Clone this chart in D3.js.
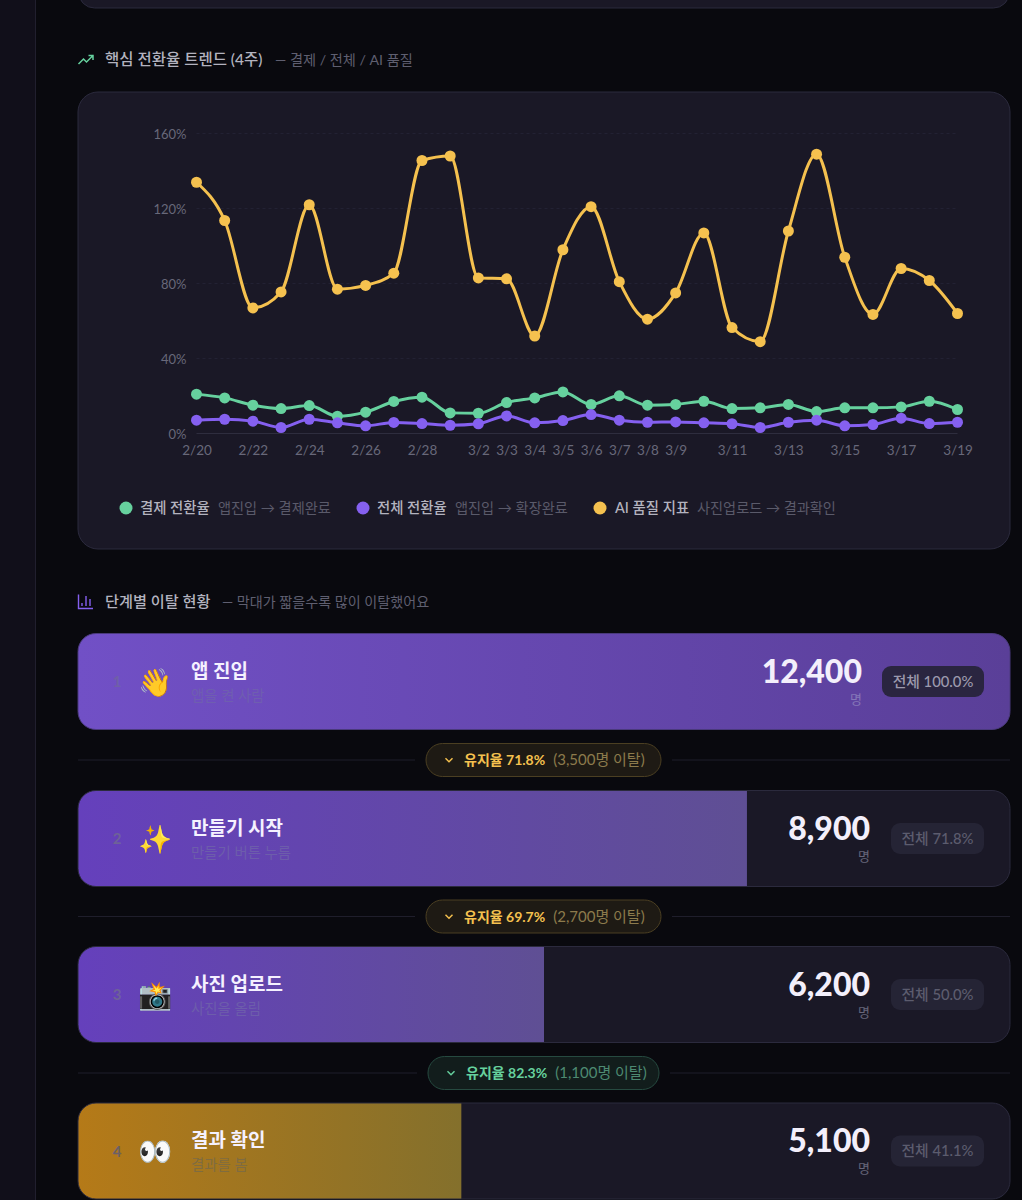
<!DOCTYPE html>
<html lang="ko">
<head>
<meta charset="utf-8">
<title>전환율 트렌드</title>
<script src="https://cdn.jsdelivr.net/npm/d3@7"></script>
<style>
  html, body { margin: 0; padding: 0; background: #09090e; overflow: hidden; }
  svg { display: block; }
  text { font-family: Lato, "Noto Sans CJK KR", sans-serif; }
</style>
</head>
<body>
<div id="chart"></div>
<script>
// 차트 데이터
const dates = ["2/20","2/21","2/22","2/23","2/24","2/25","2/26","2/27","2/28","3/1","3/2","3/3","3/4","3/5","3/6","3/7","3/8","3/9","3/10","3/11","3/12","3/13","3/14","3/15","3/16","3/17","3/18","3/19"];
const xTickLabels = ["2/20","2/22","2/24","2/26","2/28","3/2","3/3","3/4","3/5","3/6","3/7","3/8","3/9","3/11","3/13","3/15","3/17","3/19"];
const yTicks = [0, 40, 80, 120, 160];
const paymentRate = [21,19,15.1,13.3,14.9,9.2,11.4,17.1,19.4,11,10.8,16.5,19,22.2,15.5,20.1,15.1,15.5,17.2,13.3,13.7,15.5,11.7,13.7,13.7,14.2,17.2,12.8];
const overallRate = [7.1,7.6,6.6,3.2,7.6,5.7,4.1,5.9,5.3,4.4,5.2,9.4,5.7,6.9,10.1,7.1,6,6.2,5.7,5.2,3.2,6,7.1,4.1,4.8,8.2,5.3,6];
const aiQuality = [134,113.6,67,75.5,122,77,79,85.5,145.6,148,83,82.5,52,98,121,81,61,75,107,56.5,49,108,149,94,63.5,88,81.6,64];

const legendNames = ["결제 전환율","전체 전환율","AI 품질 지표"];
const legendSubs = ["앱진입 → 결제완료","앱진입 → 확장완료","사진업로드 → 결과확인"];

const stepNames = ["앱 진입","만들기 시작","사진 업로드","결과 확인"];
const stepSubs = ["앱을 켠 사람","만들기 버튼 누름","사진을 올림","결과를 봄"];
const stepIcons = ["👋","✨","📸","👀"];
const stepCounts = [12400,8900,6200,5100];
const stepShares = ["100.0%","71.8%","50.0%","41.1%"];
const retention = ["71.8%","69.7%","82.3%"];
const dropped = ["3,500명","2,700명","1,100명"];

const width = 1022;
const height = 1200;
const bg = "#09090e";
const cardFill = "#1a1826";
const cardStroke = "#2b2a3d";
const green = "#66d19e";
const purple = "#8560f0";
const yellow = "#f5c14f";

const svg = d3.select("#chart").append("svg")
  .attr("width", width)
  .attr("height", height)
  .attr("viewBox", [0, 0, width, height]);
const defs = svg.append("defs");

svg.append("rect").attr("width", width).attr("height", height).attr("fill", bg);

// 왼쪽 사이드바
svg.append("rect").attr("width", 36).attr("height", height).attr("fill", "#110f1a");
svg.append("line").attr("x1", 35.5).attr("x2", 35.5).attr("y1", 0).attr("y2", height).attr("stroke", "#211f2e");

// 위쪽에 잘린 카드
svg.append("rect").attr("x", 78.5).attr("y", -40).attr("width", 931).attr("height", 48)
  .attr("rx", 16).attr("fill", cardFill).attr("stroke", cardStroke);

function header(title, sub, y, titleSize, subX, subSize) {
  svg.append("text").attr("x", 105).attr("y", y + 5).attr("font-size", titleSize).attr("font-weight", 500)
    .attr("fill", "#b3b3bf").text(title);
  svg.append("text").attr("x", subX).attr("y", y + 5).attr("font-size", subSize)
    .attr("fill", "#5f5f70").text(sub);
}

header("핵심 전환율 트렌드 (4주)", "— 결제 / 전체 / AI 품질", 60, 15.5, 275, 14.2);
svg.append("path").attr("transform", "translate(78,53)")
  .attr("d", "M0.5 11 L5.5 6 L8.5 9 L15 2.5 M10.5 2.5 H15 V7")
  .attr("fill", "none").attr("stroke", green).attr("stroke-width", 1.5);

header("단계별 이탈 현황", "— 막대가 짧을수록 많이 이탈했어요", 601.5, 15.2, 222, 14.1);
svg.append("path").attr("transform", "translate(78,594)")
  .attr("d", "M0.5 0.5 V14.5 H15 M4 12 V9 M8 12 V2 M12 12 V5")
  .attr("fill", "none").attr("stroke", purple).attr("stroke-width", 1.4);

// 트렌드 카드
svg.append("rect").attr("x", 78).attr("y", 92).attr("width", 932).attr("height", 457)
  .attr("rx", 20).attr("fill", cardFill).attr("stroke", cardStroke);

const x = d3.scalePoint().domain(dates).range([196.5, 957.5]);
const y = d3.scaleLinear().domain([0, 160]).range([433.5, 133.5]);

svg.append("g").selectAll("line").data(yTicks).join("line")
  .attr("x1", x.range()[0]).attr("x2", x.range()[1])
  .attr("y1", d => y(d)).attr("y2", d => y(d))
  .attr("stroke", d => d === 0 ? "#2e2d3e" : "#222133")
  .attr("stroke-dasharray", d => d === 0 ? null : "3 3");

const yAxis = svg.append("g").attr("transform", "translate(186.5,0.5)")
  .call(d3.axisLeft(y).tickValues(yTicks).tickSize(0).tickPadding(0).tickFormat(d => d + "%"));
const xAxis = svg.append("g").attr("transform", "translate(0,445)")
  .call(d3.axisBottom(x).tickValues(xTickLabels).tickSize(0).tickPadding(0));
[yAxis, xAxis].forEach((a, k) => {
  a.select(".domain").remove();
  a.selectAll("text").attr("font-size", k === 0 ? 13 : 13.5).attr("fill", "#68687a")
    .style("font-family", 'Lato, "Noto Sans CJK KR", sans-serif');
});

const line = d3.line().x((d, i) => x(dates[i])).y(d => y(d)).curve(d3.curveMonotoneX);
const seriesList = [paymentRate, overallRate, aiQuality];
const seriesColors = [green, purple, yellow];
seriesList.forEach((values, k) => {
  svg.append("path").attr("d", line(values)).attr("fill", "none")
    .attr("stroke", seriesColors[k]).attr("stroke-width", 3);
  svg.append("g").selectAll("circle").data(values).join("circle")
    .attr("cx", (d, i) => x(dates[i])).attr("cy", d => y(d)).attr("r", 5.5)
    .attr("fill", seriesColors[k]);
});

// 범례
const legendDotX = [126, 363, 600];
const legendNameX = [140, 377, 615];
const legendSubX = [218, 455, 697];
legendNames.forEach((name, i) => {
  svg.append("circle").attr("cx", legendDotX[i]).attr("cy", 508).attr("r", 6.5).attr("fill", seriesColors[i]);
  svg.append("text").attr("x", legendNameX[i]).attr("y", 513).attr("font-size", 14.4).attr("font-weight", 500)
    .attr("fill", "#b3b3bf").text(name);
  svg.append("text").attr("x", legendSubX[i]).attr("y", 513).attr("font-size", 14.2)
    .attr("fill", "#5a5a6a").text(legendSubs[i]);
});

// 퍼널 단계
const rowTop = [633.5, 790.5, 946.5, 1103];
const rowHeight = 96;
const barColors = [["#7150c6","#5a3f98"],["#6540bc","#5f4f94"],["#6540bc","#5f4f94"],["#b57a18","#84702c"]];
const numColors = ["#6f60a8","#6e6298","#6e6298","#6b6068"];
const subColors = ["#6f5eb0","#6d5dab","#6d5dab","#7f6c40"];
const w = d3.scaleLinear().domain([0, stepCounts[0]]).range([0, 932]);
const format = d3.format(",");

stepNames.forEach((name, i) => {
  const top = rowTop[i];
  const mid = top + rowHeight / 2;
  const g = svg.append("g");
  const grad = defs.append("linearGradient").attr("id", "bar" + i);
  grad.append("stop").attr("offset", 0).attr("stop-color", barColors[i][0]);
  grad.append("stop").attr("offset", 1).attr("stop-color", barColors[i][1]);
  defs.append("clipPath").attr("id", "clip" + i).append("rect")
    .attr("x", 78).attr("y", top).attr("width", 932).attr("height", rowHeight).attr("rx", 18);

  g.append("rect").attr("x", 78).attr("y", top).attr("width", 932).attr("height", rowHeight)
    .attr("rx", 18).attr("fill", cardFill);
  g.append("rect").attr("x", 78).attr("y", top).attr("width", w(stepCounts[i])).attr("height", rowHeight)
    .attr("fill", `url(#bar${i})`).attr("clip-path", `url(#clip${i})`);
  g.append("rect").attr("x", 78).attr("y", top).attr("width", 932).attr("height", rowHeight)
    .attr("rx", 18).attr("fill", "none").attr("stroke", i === 0 ? "#4a3a7c" : cardStroke);

  g.append("text").attr("x", 117).attr("y", mid + 5.5).attr("text-anchor", "middle")
    .attr("font-size", 15).attr("font-weight", 700).attr("fill", numColors[i])
    .text(i + 1);
  g.append("text").attr("x", 155.5).attr("y", mid + 10).attr("text-anchor", "middle")
    .attr("font-size", 27.5).style("font-family", '"Noto Color Emoji", sans-serif').text(stepIcons[i]);
  g.append("text").attr("x", 191).attr("y", top + 44).attr("font-size", 19).attr("font-weight", 700)
    .attr("fill", "#f5f1ff").text(name);
  g.append("text").attr("x", 191).attr("y", top + 67).attr("font-size", 14.4)
    .attr("fill", subColors[i]).text(stepSubs[i]);

  const numRight = i === 0 ? 862 : 870;
  g.append("text").attr("x", numRight).attr("y", top + 49).attr("text-anchor", "end")
    .attr("font-size", 32).attr("font-weight", 900).attr("fill", "#f3effb").text(format(stepCounts[i]));
  g.append("text").attr("x", numRight).attr("y", top + 70).attr("text-anchor", "end")
    .attr("font-size", 13).attr("fill", i === 0 ? "#8577b8" : "#66667a").text("명");

  const badgeLeft = i === 0 ? 882 : 891;
  g.append("rect").attr("x", badgeLeft).attr("y", mid - 15.5).attr("width", 984 - badgeLeft).attr("height", 31)
    .attr("rx", 9).attr("fill", i === 0 ? "#2a2540" : "#252435");
  g.append("text").attr("x", (badgeLeft + 984) / 2).attr("y", mid + 5).attr("text-anchor", "middle")
    .attr("font-size", 14.8).attr("font-weight", 500).attr("fill", i === 0 ? "#9c99ad" : "#5c5c6e")
    .text("전체 " + stepShares[i]);
});

// 단계 사이 유지율
const pillY = [760, 916.5, 1073];
const pillLeft = [426, 426, 428];
const pillRight = [661, 661, 659];
const pillFill = ["#1e1a14", "#1e1a14", "#121d1c"];
const pillStroke = ["#4b3f22", "#4b3f22", "#264a40"];
const pillText = [yellow, yellow, green];
const pillDim = ["#8c7a4c", "#8c7a4c", "#4d8a72"];

retention.forEach((rate, i) => {
  const cy = pillY[i];
  const g = svg.append("g");
  g.append("line").attr("x1", 78).attr("x2", pillLeft[i] - 11).attr("y1", cy).attr("y2", cy).attr("stroke", "#1f1e2b");
  g.append("line").attr("x1", pillRight[i] + 11).attr("x2", 1010).attr("y1", cy).attr("y2", cy).attr("stroke", "#1f1e2b");
  g.append("rect").attr("x", pillLeft[i]).attr("y", cy - 16.5).attr("width", pillRight[i] - pillLeft[i]).attr("height", 33)
    .attr("rx", 16.5).attr("fill", pillFill[i]).attr("stroke", pillStroke[i]);
  g.append("path").attr("transform", `translate(${pillLeft[i] + 23},${cy})`)
    .attr("d", "M-3.5 -1.8 L0 1.8 L3.5 -1.8").attr("fill", "none")
    .attr("stroke", pillText[i]).attr("stroke-width", 1.4);
  const t = g.append("text").attr("x", pillLeft[i] + 38).attr("y", cy + 5).attr("font-size", 14);
  t.append("tspan").attr("font-weight", 700).attr("fill", pillText[i]).text("유지율 " + rate);
  t.append("tspan").attr("dx", 8).attr("font-size", 15).attr("fill", pillDim[i]).text(`(${dropped[i]} 이탈)`);
});
</script>
</body>
</html>
